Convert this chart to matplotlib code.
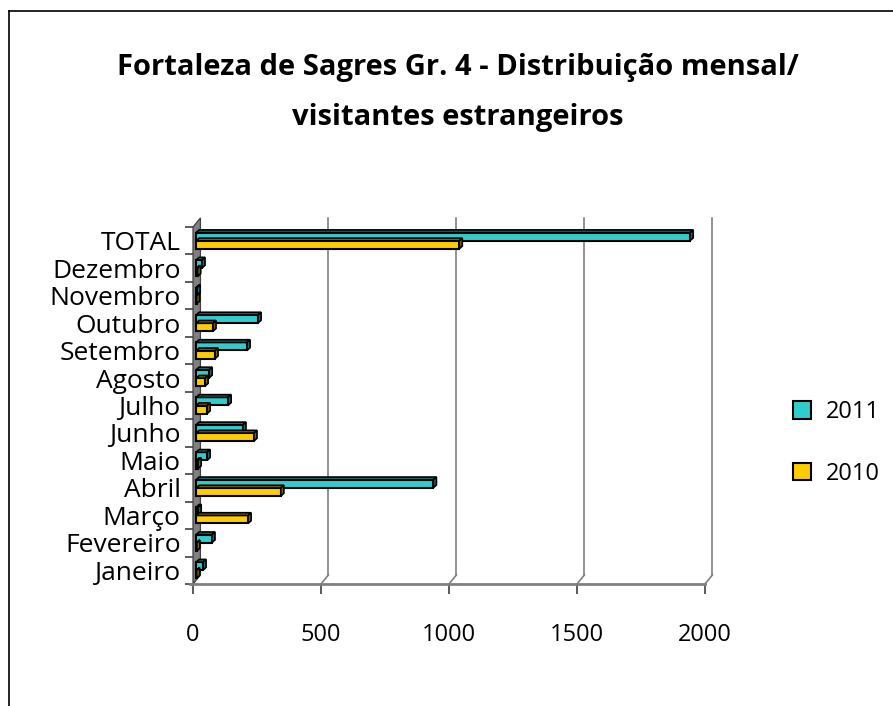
import numpy as np
import matplotlib.pyplot as plt
from matplotlib.patches import Polygon, Patch
from matplotlib.lines import Line2D

plt.rcParams['font.family'] = ['Open Sans', 'DejaVu Sans']

categories = ["Janeiro", "Fevereiro", "Março", "Abril", "Maio", "Junho", "Julho",
              "Agosto", "Setembro", "Outubro", "Novembro", "Dezembro", "TOTAL"]
v2011 = [27, 62, 8, 927, 43, 183, 125, 51, 199, 242, 4, 23, 1930]
v2010 = [2, 3, 203, 331, 8, 226, 43, 35, 74, 66, 2, 6, 1028]
xticks = [0, 500, 1000, 1500, 2000]

CYAN, CYAN_D = "#33CCCC", "#136b6b"
YEL, YEL_D = "#FFCC00", "#7a6200"
GREY = "#808080"

W, H = 893, 706
fig = plt.figure(figsize=(W / 100, H / 100), dpi=100)
ax = fig.add_axes([193 / W, 1 - 584 / H, 512 / W, 357 / H])
ax.set_xlim(0, 2000)
ax.set_ylim(-0.5, len(categories) - 0.5)

# 3d depth of the plot box and of the bars, in data units
DX, DY = 29, 0.33
bdx, bdy = 12, 0.10
x0 = 12

# back wall + gridlines + floor
top = len(categories) - 0.5
ax.add_patch(Polygon([(0, -0.5), (DX, -0.5 + DY), (DX, top + DY), (0, top)],
                     closed=True, facecolor=GREY, edgecolor="#404040", lw=0.9,
                     clip_on=False, zorder=1))
for v in xticks[1:]:
    ax.plot([v + DX, v + DX], [-0.5 + DY, top + DY], color=GREY, lw=1.2, clip_on=False, zorder=0)
    ax.plot([v, v + DX], [-0.5, -0.5 + DY], color=GREY, lw=1.2, clip_on=False, zorder=0)
ax.plot([-12, 2000], [-0.5, -0.5], color=GREY, lw=2, clip_on=False, zorder=2)

y = np.arange(len(categories))
h = 0.29
for vals, off, col, dark in [(v2011, 0.15, CYAN, CYAN_D), (v2010, -0.15, YEL, YEL_D)]:
    yb = y + off - h / 2
    ax.barh(y + off, vals, height=h, left=x0, color=col, edgecolor="black", lw=1.5, zorder=3)
    for yy, v in zip(yb, vals):
        xe = x0 + v
        ax.add_patch(Polygon([(x0, yy + h), (xe, yy + h), (xe + bdx, yy + h + bdy), (x0 + bdx, yy + h + bdy)],
                             closed=True, facecolor=dark, edgecolor="black", lw=1.2, zorder=3))
        ax.add_patch(Polygon([(xe, yy), (xe + bdx, yy + bdy), (xe + bdx, yy + h + bdy), (xe, yy + h)],
                             closed=True, facecolor=dark, edgecolor="black", lw=1.2, zorder=3))

for s in ax.spines.values():
    s.set_visible(False)

ax.set_yticks(y)
ax.set_yticklabels(categories, fontsize=19)
ax.set_yticks(np.arange(-0.5, len(categories), 1), minor=True)
ax.tick_params(axis="y", which="major", length=0, pad=9)
ax.tick_params(axis="y", which="minor", length=6, width=1.2, color="#404040")

ax.set_xticks(xticks)
ax.set_xticklabels([str(t) for t in xticks], fontsize=17)
ax.tick_params(axis="x", length=7, width=1.2, color="#404040", pad=21)

fig.text(458 / W, 1 - 68 / H, "Fortaleza de Sagres Gr. 4 - Distribuição mensal/",
         ha="center", va="center", fontsize=21, fontweight="bold")
fig.text(458 / W, 1 - 118 / H, "visitantes estrangeiros",
         ha="center", va="center", fontsize=21, fontweight="bold")

handles = [Patch(facecolor=CYAN, edgecolor="black", lw=1.5, label="2011"),
           Patch(facecolor=YEL, edgecolor="black", lw=1.5, label="2010")]
fig.legend(handles=handles, loc="center left", bbox_to_anchor=(793 / W, 1 - 443 / H),
           frameon=False, fontsize=17, handlelength=0.75, handleheight=0.75,
           labelspacing=1.6, handletextpad=0.65, borderpad=0, borderaxespad=0)

# outer frame (cut at the right and bottom)
fig.add_artist(Line2D([8.5 / W, 8.5 / W], [0, 1 - 10.5 / H], color="black", lw=1.2))
fig.add_artist(Line2D([8.5 / W, 1], [1 - 10.5 / H, 1 - 10.5 / H], color="black", lw=1.2))

fig.savefig("out.png", dpi=100)
